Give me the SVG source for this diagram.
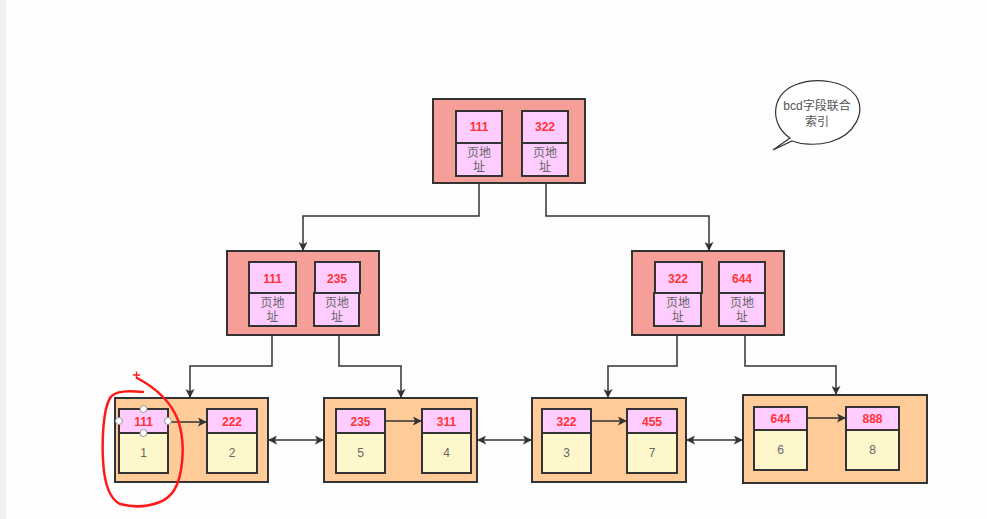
<svg xmlns="http://www.w3.org/2000/svg" width="987" height="519" viewBox="0 0 987 519">
<defs>
<marker id="ah" viewBox="0 0 10 10" refX="9" refY="5" markerWidth="9" markerHeight="9" orient="auto-start-reverse" markerUnits="userSpaceOnUse">
<path d="M0,0 L10,5 L0,10 L2.5,5 Z" fill="#333"/>
</marker>
<style>
.inner{fill:#F69E98;stroke:#333;stroke-width:2}
.leaf{fill:#FFCC99;stroke:#333;stroke-width:2}
.key{fill:#FFCCFF;stroke:#333;stroke-width:2}
.val{fill:#FFF7CC;stroke:#333;stroke-width:2}
.num{font-family:"Liberation Sans",Arial,sans-serif;font-size:12px;font-weight:bold;fill:#FF3333;text-anchor:middle}
.pa{font-family:"Liberation Sans","Noto Sans CJK SC",sans-serif;font-size:12px;fill:#666;text-anchor:middle}
.dig{font-family:"Liberation Sans",Arial,sans-serif;font-size:12px;fill:#666;text-anchor:middle}
.con{fill:none;stroke:#333;stroke-width:1.5;marker-end:url(#ah)}
.bi{fill:none;stroke:#333;stroke-width:1.5;marker-end:url(#ah);marker-start:url(#ah)}
.handle{fill:#fff;stroke:#999;stroke-width:1}
</style>
</defs>
<rect x="0" y="0" width="987" height="519" fill="#fdfdfd"/>
<rect x="0" y="0" width="6" height="519" fill="#f0f0f0"/>

<g id="root">
<rect class="inner" x="433" y="99" width="152" height="84"/>
<rect class="key" x="456" y="111" width="46" height="32"/>
<rect class="key" x="456" y="143" width="46" height="33"/>
<text class="num" x="479" y="131">111</text>
<text class="pa" x="479" y="157">页地</text>
<text class="pa" x="479" y="171">址</text>
<rect class="key" x="522" y="111" width="46" height="32"/>
<rect class="key" x="522" y="143" width="46" height="33"/>
<text class="num" x="545" y="131">322</text>
<text class="pa" x="545" y="157">页地</text>
<text class="pa" x="545" y="171">址</text>
</g>

<g id="midLeft">
<rect class="inner" x="227" y="251" width="152" height="84"/>
<rect class="key" x="249" y="262" width="47" height="31"/>
<rect class="key" x="249" y="293" width="47" height="33"/>
<text class="num" x="272.5" y="283">111</text>
<text class="pa" x="272.5" y="307">页地</text>
<text class="pa" x="272.5" y="321">址</text>
<rect class="key" x="315" y="262" width="45" height="31"/>
<rect class="key" x="314" y="293" width="45" height="33"/>
<text class="num" x="337" y="283">235</text>
<text class="pa" x="337" y="307">页地</text>
<text class="pa" x="337" y="321">址</text>
</g>

<g id="midRight">
<rect class="inner" x="632" y="251" width="152" height="84"/>
<rect class="key" x="655" y="262" width="47" height="31"/>
<rect class="key" x="654" y="293" width="47" height="33"/>
<text class="num" x="678" y="283">322</text>
<text class="pa" x="678" y="307">页地</text>
<text class="pa" x="678" y="321">址</text>
<rect class="key" x="719" y="262" width="46" height="31"/>
<rect class="key" x="719" y="293" width="46" height="33"/>
<text class="num" x="742" y="283">644</text>
<text class="pa" x="742" y="307">页地</text>
<text class="pa" x="742" y="321">址</text>
</g>

<g id="leaf1">
<rect class="leaf" x="115" y="398" width="153" height="84"/>
<rect class="val" x="119" y="433" width="49" height="40"/>
<rect class="key" x="119" y="409" width="49" height="24"/>
<text class="num" x="143.5" y="426">111</text>
<text class="dig" x="143.5" y="457">1</text>
<rect class="val" x="207" y="433" width="50" height="40"/>
<rect class="key" x="207" y="409" width="50" height="24"/>
<text class="num" x="232" y="426">222</text>
<text class="dig" x="232" y="457">2</text>
</g>

<g id="leaf2">
<rect class="leaf" x="324" y="398" width="153" height="84"/>
<rect class="val" x="336" y="433" width="49" height="40"/>
<rect class="key" x="336" y="409" width="49" height="24"/>
<text class="num" x="360.5" y="426">235</text>
<text class="dig" x="360.5" y="457">5</text>
<rect class="val" x="422" y="433" width="49" height="40"/>
<rect class="key" x="422" y="409" width="49" height="24"/>
<text class="num" x="446.5" y="426">311</text>
<text class="dig" x="446.5" y="457">4</text>
</g>

<g id="leaf3">
<rect class="leaf" x="532" y="398" width="154" height="84"/>
<rect class="val" x="542" y="433" width="49" height="40"/>
<rect class="key" x="542" y="409" width="49" height="24"/>
<text class="num" x="566.5" y="426">322</text>
<text class="dig" x="566.5" y="457">3</text>
<rect class="val" x="627" y="433" width="50" height="40"/>
<rect class="key" x="627" y="409" width="50" height="24"/>
<text class="num" x="652" y="426">455</text>
<text class="dig" x="652" y="457">7</text>
</g>

<g id="leaf4">
<rect class="leaf" x="743" y="395" width="184" height="88"/>
<rect class="val" x="754" y="430" width="53" height="40"/>
<rect class="key" x="754" y="407" width="53" height="23"/>
<text class="num" x="780.5" y="423">644</text>
<text class="dig" x="780.5" y="454">6</text>
<rect class="val" x="846" y="430" width="53" height="40"/>
<rect class="key" x="846" y="407" width="53" height="23"/>
<text class="num" x="872.5" y="423">888</text>
<text class="dig" x="872.5" y="454">8</text>
</g>

<g id="note">
<path d="M790,138 C770,125 770,95 795,85 C815,77 845,80 856,96 C866,112 855,135 830,142 C815,146 800,144 792,141 L773,150 L790,138 Z" fill="#fff" stroke="#333" stroke-width="1.2"/>
<text class="pa" x="817" y="110" style="fill:#555">bcd字段联合</text>
<text class="pa" x="817" y="126" style="fill:#555">索引</text>
</g>

<g id="connectors">
<polyline class="con" points="479,183 479,216 303,216 303,250"/>
<polyline class="con" points="546,183 546,216 709,216 709,250"/>
<polyline class="con" points="272,335 272,366 190,366 190,397"/>
<polyline class="con" points="339,335 339,366 401,366 401,397"/>
<polyline class="con" points="677,335 677,366 608,366 608,397"/>
<polyline class="con" points="745,335 745,366 836,366 836,394"/>
<line class="con" x1="168" y1="422" x2="206" y2="422"/>
<line class="con" x1="385" y1="421" x2="421" y2="421"/>
<line class="con" x1="591" y1="421" x2="626" y2="421"/>
<line class="con" x1="807" y1="418" x2="845" y2="418"/>
<line class="bi" x1="269" y1="440" x2="323" y2="440"/>
<line class="bi" x1="478" y1="440" x2="531" y2="440"/>
<line class="bi" x1="687" y1="440" x2="742" y2="440"/>
</g>

<g id="annotation">
<circle class="handle" cx="143.5" cy="409" r="3.5"/>
<circle class="handle" cx="119" cy="421" r="3.5"/>
<circle class="handle" cx="168" cy="421" r="3.5"/>
<circle class="handle" cx="143.5" cy="433" r="3.5"/>
<path d="M143,392 C130,391 115,390 110,398 C103,410 102,440 103,460 C104,480 108,498 120,504 C135,508 150,506 160,502 C172,497 178,487 181,470 C184,452 183,435 178,420 C172,405 160,390 137,378" fill="none" stroke="#ff1a1a" stroke-width="2.5" stroke-linecap="round"/>
<path d="M133,375 L140,375 M136.5,371.5 L136.5,378.5" stroke="#ff1a1a" stroke-width="1.3"/>
</g>
</svg>
